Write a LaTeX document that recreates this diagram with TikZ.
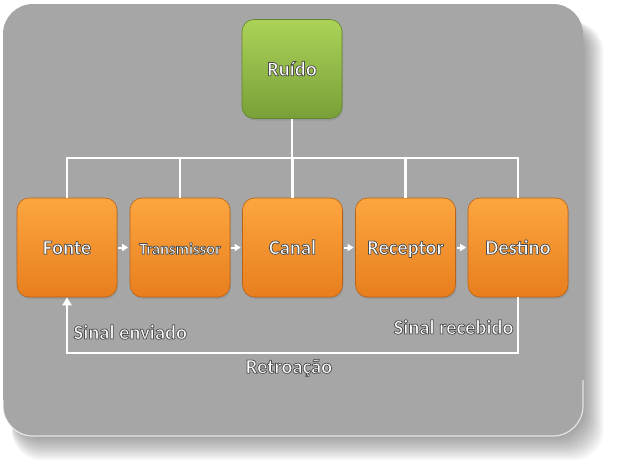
\documentclass[tikz,border=0pt]{standalone}
\usepackage{fontspec}
\setmainfont{Carlito}
\usepackage{xcolor}
\usetikzlibrary{arrows.meta,shadows}

\definecolor{panel}{RGB}{166,166,166}
\definecolor{boxtop}{RGB}{252,166,64}
\definecolor{boxbot}{RGB}{232,126,30}
\definecolor{boxline}{RGB}{186,98,22}
\definecolor{greentop}{RGB}{172,210,88}
\definecolor{greenbot}{RGB}{120,160,56}
\definecolor{greenline}{RGB}{98,132,44}
% white letters with a thin dark rim
\newcommand{\rim}[1]{\special{pdf:literal direct 2 Tr 0.75 w 0.3 G}#1\special{pdf:literal direct 0 Tr}}

\begin{document}
\begin{tikzpicture}[x=1pt, y=-1pt,
    box/.style={draw=boxline, line width=0.6pt, rounded corners=12pt,
      minimum width=100pt, minimum height=99pt, inner sep=0pt,
      top color=boxtop, bottom color=boxbot, text=white,
      text height=13.5pt, text depth=0pt,
      drop shadow={shadow xshift=1pt, shadow yshift=-2pt, opacity=0.35},
      font=\bfseries\fontsize{20.5}{24}\selectfont},
    wire/.style={white, line width=2.6pt},
    flow/.style={white, line width=2pt, -{Triangle[length=6pt, width=7pt]}},
    lbl/.style={text=white, font=\bfseries\fontsize{20.5}{24}\selectfont}]
    \useasboundingbox (0,0) rectangle (618,466);
    % panel with soft shadow
    \foreach \s in {1,...,12} {
      \fill[black, opacity=0.035, rounded corners=30pt] (12,22) rectangle (583+\s*1.7, 436+\s*2);
    }
    \fill[panel, rounded corners=30pt] (3,4) rectangle (583,436);
    \draw[white, opacity=0.7, line width=1.2pt, rounded corners=30pt] (3,400) -- (3,436) -- (583,436) -- (583,380);
    % noise source
    \node[box, top color=greentop, bottom color=greenbot, draw=greenline] (ruido) at (292,69) {\rim{Ruído}};
    % chain of blocks
    \foreach \n/\x/\t in {fonte/67/Fonte, trans/180/{\fontsize{16.5}{20}\selectfont Transmissor}, canal/292.5/Canal, recep/405.5/Receptor, dest/518/Destino} {
      \node[box] (\n) at (\x,247.5) {\rim{\t}};
    }
    \coordinate (bus) at (292,158);
    \coordinate (back) at (292,353);
    % noise bus
    \draw[wire] (ruido) -- (ruido |- bus);
    \draw[wire] (fonte) -- (fonte |- bus) -- (dest |- bus) -- (dest);
    \foreach \n in {trans,canal,recep} {
      \draw[wire] (\n |- bus) -- (\n);
    }
    % forward arrows
    \foreach \a/\b in {fonte/trans, trans/canal, canal/recep, recep/dest} {
      \draw[flow, shorten <=1pt, shorten >=1.5pt] (\a) -- (\b);
    }
    % feedback loop
    \draw[flow, line width=2.4pt, -{Triangle[length=8pt, width=9pt]}] (dest) -- (dest |- back) -- (fonte |- back) -- (fonte);
    \node[lbl, anchor=west] (enviado) at (70,332) {\rim{Sinal enviado}};
    \node[lbl, anchor=east] (recebido) at (517,327) {\rim{Sinal recebido}};
    \node[lbl] (retro) at (289,368) {\rim{Retroação}};
\end{tikzpicture}
\end{document}
